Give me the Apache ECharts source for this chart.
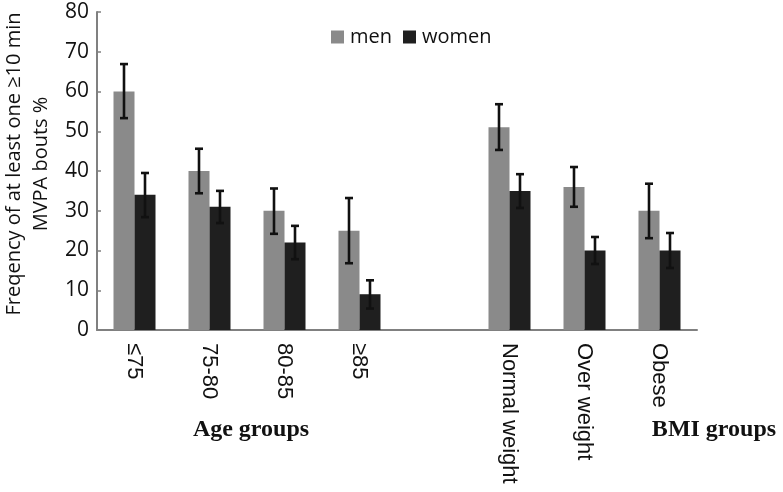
<!DOCTYPE html>
<html>
<head>
<meta charset="utf-8">
<script src="https://cdn.jsdelivr.net/npm/echarts@6/dist/echarts.min.js"></script>
<style>html,body{margin:0;padding:0;background:#fff}#c{width:783px;height:492px}</style>
</head>
<body>
<div id="c"></div>
<script>
var categories = ['≤75', '75-80', '80-85', '≥85', '', 'Normal weight', 'Over weight', 'Obese'];
var men = [60, 40, 30, 25, null, 51, 36, 30];
var women = [34, 31, 22, 9, null, 35, 20, 20];
var menLow = [53.3, 34.4, 24.2, 16.8, null, 45.3, 31.0, 23.1];
var menHigh = [66.9, 45.6, 35.6, 33.2, null, 56.8, 41.0, 36.8];
var womenLow = [28.4, 26.9, 17.8, 5.4, null, 30.7, 16.6, 15.6];
var womenHigh = [39.5, 35.0, 26.2, 12.5, null, 39.2, 23.4, 24.4];
var yTicks = [0, 10, 20, 30, 40, 50, 60, 70, 80];

var chart = echarts.init(document.getElementById('c'));

function errData(lo, hi) {
  var d = [];
  for (var i = 0; i < categories.length; i++) {
    if (lo[i] != null) d.push([i, lo[i], hi[i]]);
  }
  return d;
}
function errRender(offset) {
  return function (params, api) {
    var i = api.value(0);
    var lo = api.coord([i, api.value(1)]);
    var hi = api.coord([i, api.value(2)]);
    var x = lo[0] + offset;
    var cap = 4;
    var st = { stroke: '#111', lineWidth: 2.6 };
    return {
      type: 'group',
      children: [
        { type: 'line', shape: { x1: x, y1: lo[1], x2: x, y2: hi[1] }, style: st },
        { type: 'line', shape: { x1: x - cap, y1: lo[1], x2: x + cap, y2: lo[1] }, style: st },
        { type: 'line', shape: { x1: x - cap, y1: hi[1], x2: x + cap, y2: hi[1] }, style: st }
      ]
    };
  };
}

chart.setOption({
  animation: false,
  grid: { left: 97, right: 86, top: 12, bottom: 162 },
  legend: {
    data: ['men', 'women'],
    left: 326, top: 22,
    icon: 'rect', itemWidth: 13, itemHeight: 13, itemGap: 11,
    textStyle: { fontFamily: 'Open Sans', fontSize: 20, color: '#111', padding: [0, 0, 0, 1] }
  },
  xAxis: {
    type: 'category',
    data: categories,
    axisLine: { lineStyle: { color: '#808080', width: 2 } },
    axisTick: { show: false },
    axisLabel: { rotate: -90, margin: 13, interval: 0, fontFamily: 'Liberation Sans', fontSize: 22, color: '#111' }
  },
  yAxis: {
    type: 'value',
    min: yTicks[0], max: yTicks[yTicks.length - 1], interval: 10,
    splitLine: { show: false },
    axisLine: { show: true, lineStyle: { color: '#808080', width: 2 } },
    axisTick: { show: true, inside: true, length: 4, lineStyle: { color: '#808080', width: 1.5 } },
    axisLabel: { margin: 8, fontFamily: 'Open Sans', fontSize: 21, color: '#111' }
  },
  graphic: [
    {
      type: 'text', x: 28, y: 164, rotation: Math.PI / 2,
      style: {
        text: 'Freqency of at least one ≥10 min\nMVPA bouts %',
        fontFamily: 'Open Sans', fontSize: 20, lineHeight: 27, fill: '#111',
        align: 'center', verticalAlign: 'middle'
      }
    },
    {
      type: 'text', x: 251, y: 430,
      style: { text: 'Age groups', fontFamily: 'Liberation Serif', fontWeight: 'bold', fontSize: 24, fill: '#111', align: 'center', verticalAlign: 'middle' }
    },
    {
      type: 'text', x: 714, y: 430,
      style: { text: 'BMI groups', fontFamily: 'Liberation Serif', fontWeight: 'bold', fontSize: 24, fill: '#111', align: 'center', verticalAlign: 'middle' }
    }
  ],
  series: [
    { name: 'men', type: 'bar', data: men, barWidth: 21, barGap: '0%', itemStyle: { color: '#8a8a8a' } },
    { name: 'women', type: 'bar', data: women, barWidth: 21, barGap: '0%', itemStyle: { color: '#1f1f1f' } },
    { type: 'custom', renderItem: errRender(-10.5), data: errData(menLow, menHigh), z: 10, silent: true },
    { type: 'custom', renderItem: errRender(10.5), data: errData(womenLow, womenHigh), z: 10, silent: true }
  ]
});
</script>
</body>
</html>
